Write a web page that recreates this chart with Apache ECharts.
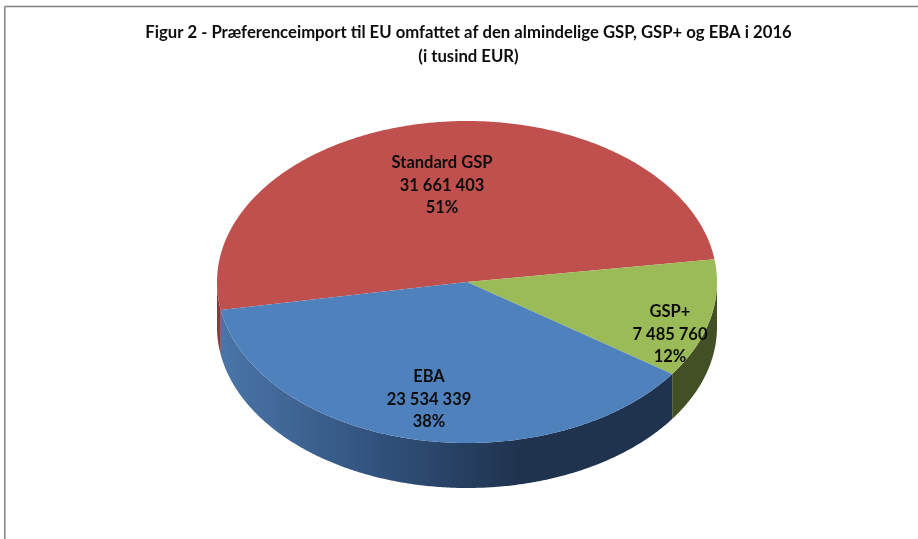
<!DOCTYPE html>
<html>
<head>
<meta charset="utf-8">
<title>Figur 2</title>
<script src="https://cdn.jsdelivr.net/npm/echarts@6/dist/echarts.min.js"></script>
<style>
  html, body { margin: 0; padding: 0; background: #fff; }
  #main { width: 918px; height: 539px; }
</style>
</head>
<body>
<div id="main"></div>
<script>
const categories = ['Standard GSP', 'GSP+', 'EBA'];
const values = [31661403, 7485760, 23534339];

// layout of the tilted pie, in pixels
const cx = 467, cy = 282, rx = 250, ry = 161, depth = 45;
const startDeg = 170; // angle on the ellipse where the first slice starts
const topColors = ['#c0504d', '#9bbb59', '#4f81bd'];
const sideColors = [
  '#8c3a38',
  '#434f25',
  { type: 'linear', global: true, x: 222, y: 0, x2: 520, y2: 0,
    colorStops: [{ offset: 0, color: '#4a75a8' }, { offset: 0.55, color: '#30507a' }, { offset: 1, color: '#1f334e' }] }
];
const labelCenters = [[442, 163], [670, 312], [429, 377]];
const labelLine = 22.5;

const total = values.reduce(function (a, b) { return a + b; }, 0);

function rimPoint(deg, dy) {
  const t = deg * Math.PI / 180;
  return [cx + rx * Math.cos(t), cy + ry * Math.sin(t) + dy];
}

function arcPoints(from, to, dy) {
  const pts = [];
  const n = Math.max(2, Math.ceil(Math.abs(to - from) * 2));
  for (let i = 0; i <= n; i++) {
    pts.push(rimPoint(from + (to - from) * i / n, dy));
  }
  return pts;
}

function formatValue(v) {
  return String(v).replace(/\B(?=(\d{3})+$)/g, ' ');
}

function renderSlice(params, api) {
  const i = params.dataIndex;
  let from = startDeg;
  for (let k = 0; k < i; k++) from += values[k] / total * 360;
  const to = from + api.value(1) / total * 360;
  const children = [];

  // outer wall, only the part facing the viewer (0-180 and 360-540 on the ellipse)
  [[0, 180], [360, 540]].forEach(function (front) {
    const a = Math.max(from, front[0]);
    const b = Math.min(to, front[1]);
    if (b > a) {
      children.push({
        type: 'polygon',
        shape: { points: arcPoints(a, b, 0).concat(arcPoints(b, a, depth)) },
        style: { fill: sideColors[i] }
      });
    }
  });

  // top face
  children.push({
    type: 'polygon',
    shape: { points: [[cx, cy]].concat(arcPoints(from, to, 0)) },
    style: { fill: topColors[i] }
  });
  return { type: 'group', children: children };
}

function renderLabel(params, api) {
  const i = params.dataIndex;
  const lines = [categories[i], formatValue(values[i]), Math.round(values[i] / total * 100) + '%'];
  return {
    type: 'group',
    children: lines.map(function (line, n) {
      return {
        type: 'text',
        style: {
          text: line,
          x: labelCenters[i][0],
          y: labelCenters[i][1] + n * labelLine,
          align: 'center',
          verticalAlign: 'middle',
          fill: '#0d0d0d',
          font: 'bold 16.5px Lato'
        }
      };
    })
  };
}

window.onload = function () {
  const chartDom = document.getElementById('main');
  const myChart = echarts.init(chartDom);
  const seriesData = categories.map(function (name, i) { return [i, values[i]]; });
  const option = {
    animation: false,
    backgroundColor: '#fff',
    title: {
      text: 'Figur 2 - Præferenceimport til EU omfattet af den almindelige GSP, GSP+ og EBA i 2016\n(i tusind EUR)',
      left: 463.5,
      top: 16,
      textAlign: 'center',
      textStyle: { fontFamily: 'Lato', fontWeight: 'bold', fontSize: 16.7, lineHeight: 24, color: '#0d0d0d' }
    },
    graphic: [
      // chart frame, cut off by the screenshot on the right and at the bottom
      { type: 'line', shape: { x1: 4.8, y1: 6.6, x2: 918, y2: 6.6 }, style: { stroke: '#808080', lineWidth: 1.5 } },
      { type: 'line', shape: { x1: 4.8, y1: 6.6, x2: 4.8, y2: 539 }, style: { stroke: '#808080', lineWidth: 1.5 } }
    ],
    series: [
      { type: 'custom', coordinateSystem: 'none', silent: true, renderItem: renderSlice, data: seriesData, z: 2 },
      { type: 'custom', coordinateSystem: 'none', silent: true, renderItem: renderLabel, data: seriesData, z: 3 }
    ]
  };
  option && myChart.setOption(option);
};
</script>
</body>
</html>
